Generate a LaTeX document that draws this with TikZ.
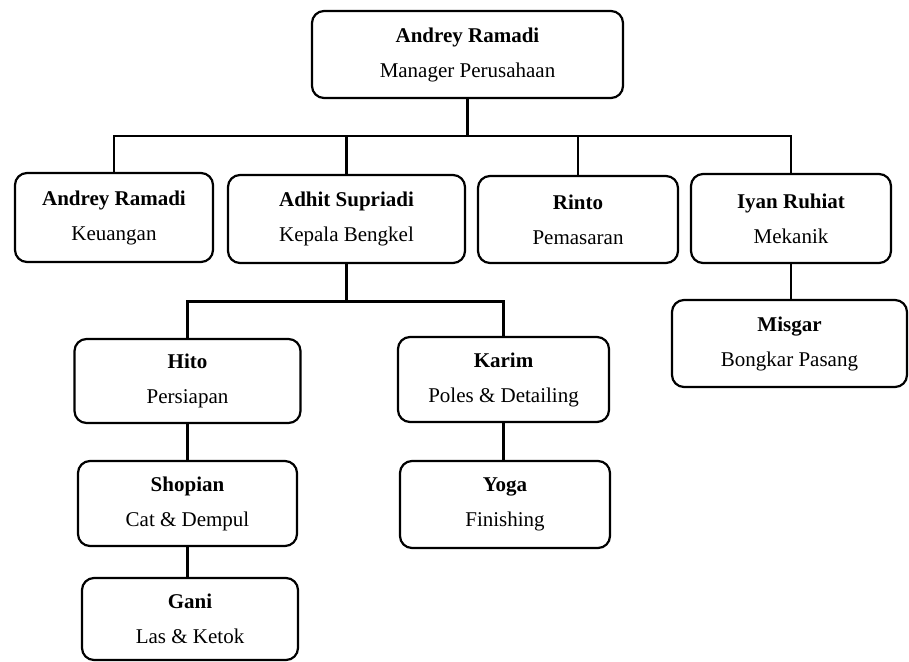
\documentclass[tikz,border=0pt]{standalone}
\usepackage{fontspec}
\setmainfont{Liberation Serif}
\begin{document}
\begin{tikzpicture}[x=1pt,y=-1pt,
  box/.style={draw=black, line width=2.2pt, rounded corners=12pt, fill=white,
    align=center, inner sep=0pt, font=\fontsize{21}{35}\selectfont},
  link/.style={draw=black, line width=2.2pt}]
\useasboundingbox (0,0) rectangle (909,661);
\begin{scope}
\clip (0,0) rectangle (909,661);
\node[box, minimum width=311pt, minimum height=87pt] (top) at (467.5,54.5) {\textbf{Andrey Ramadi}\\Manager Perusahaan};
\node[box, minimum width=198pt, minimum height=89pt] (keu) at (114,217.5) {\textbf{Andrey Ramadi}\\Keuangan};
\node[box, minimum width=237pt, minimum height=88pt] (kep) at (346.5,219) {\textbf{Adhit Supriadi}\\Kepala Bengkel};
\node[box, minimum width=200pt, minimum height=87pt] (rin) at (578,219.5) {\textbf{Rinto}\\Pemasaran};
\node[box, minimum width=200pt, minimum height=89pt] (iyan) at (791,218.5) {\textbf{Iyan Ruhiat}\\Mekanik};
\node[box, minimum width=235pt, minimum height=87pt] (misgar) at (789.5,343.5) {\textbf{Misgar}\\Bongkar Pasang};
\node[box, minimum width=226pt, minimum height=84pt] (hito) at (187.5,381) {\textbf{Hito}\\Persiapan};
\node[box, minimum width=211pt, minimum height=85pt] (karim) at (503.5,379.5) {\textbf{Karim}\\Poles \& Detailing};
\node[box, minimum width=219pt, minimum height=85pt] (shopian) at (187.5,503.5) {\textbf{Shopian}\\Cat \& Dempul};
\node[box, minimum width=210pt, minimum height=87pt] (yoga) at (505,504.5) {\textbf{Yoga}\\Finishing};
\node[box, minimum width=216pt, minimum height=82pt] (gani) at (190,619) {\textbf{Gani}\\Las \& Ketok};
\coordinate (bus1) at (0,136);
\coordinate (bus2) at (0,301.5);
\draw[link] (keu.north) |- (iyan.north |- bus1) -- (iyan.north);
\draw[link] (top.south) -- (top.south |- bus1);
\draw[link] (kep.north) -- (kep.north |- bus1);
\draw[link] (rin.north) -- (rin.north |- bus1);
\draw[link] (kep.south) -- (kep.south |- bus2);
\draw[link] (hito.north) |- (karim.north |- bus2) -- (karim.north);
\draw[link] (hito.south) -- (shopian.north);
\draw[link] (shopian.south) -- (shopian.south |- gani.north);
\draw[link] (karim.south) -- (karim.south |- yoga.north);
\draw[link] (iyan.south) -- (iyan.south |- misgar.north);
\end{scope}
\end{tikzpicture}
\end{document}
